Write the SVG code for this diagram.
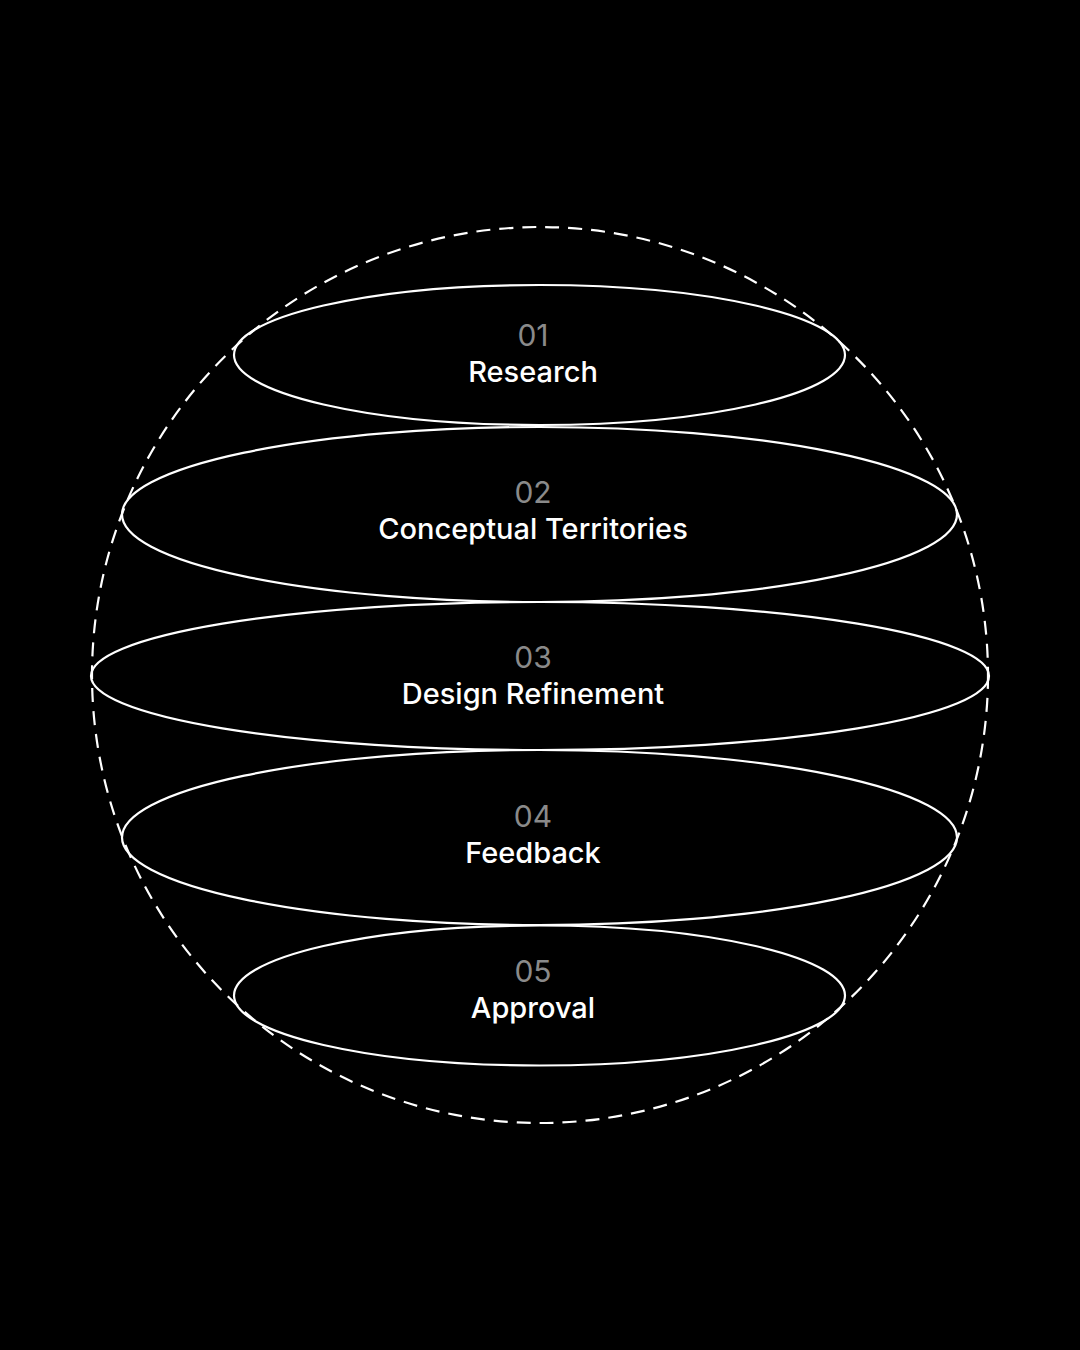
<svg xmlns="http://www.w3.org/2000/svg" width="1080" height="1350" viewBox="0 0 1080 1350">
<style>
.ring{fill:none;stroke:#fff;stroke-width:2.2}
.outer{fill:none;stroke:#fff;stroke-width:2.2;stroke-dasharray:14 9}
.num{font-family:Inter,"Liberation Sans",sans-serif;font-size:30px;fill:#8a8a8a;text-anchor:middle}
.lbl{font-family:Inter,"Liberation Sans",sans-serif;font-size:29px;font-weight:500;fill:#fff;text-anchor:middle}
</style>
<rect width="1080" height="1350" fill="#000"/>
<g id="connectors"></g>
<g id="sphere"><circle class="outer" cx="540" cy="675" r="448"/></g>
<g id="n1"><ellipse class="ring" cx="539.5" cy="355" rx="305.5" ry="70"/><text class="num" x="533" y="346">01</text><text class="lbl" x="533" y="382">Research</text></g>
<g id="n2"><ellipse class="ring" cx="539.5" cy="514.5" rx="417.5" ry="87.5"/><text class="num" x="533" y="503">02</text><text class="lbl" x="533" y="539">Conceptual Territories</text></g>
<g id="n3"><ellipse class="ring" cx="540" cy="676" rx="449" ry="74"/><text class="num" x="533" y="668">03</text><text class="lbl" x="533" y="704">Design Refinement</text></g>
<g id="n4"><ellipse class="ring" cx="539.5" cy="837.5" rx="417.5" ry="87.5"/><text class="num" x="533" y="827">04</text><text class="lbl" x="533" y="863">Feedback</text></g>
<g id="n5"><ellipse class="ring" cx="539.5" cy="995.5" rx="305.5" ry="70"/><text class="num" x="533" y="982">05</text><text class="lbl" x="533" y="1018">Approval</text></g>
</svg>
